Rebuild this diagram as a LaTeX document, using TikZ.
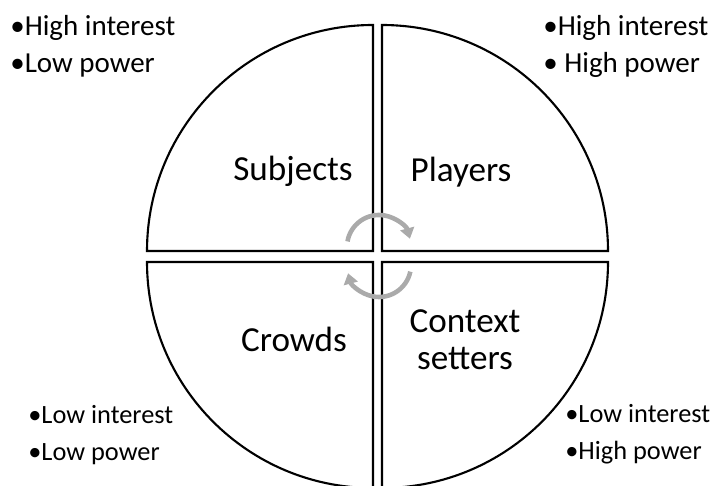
\documentclass[tikz,border=0pt]{standalone}
\usepackage{fontspec}
\setmainfont{Carlito}
\usepackage{xcolor}
\usepackage{tikz}
\definecolor{cyclegray}{RGB}{170,170,170}
\usetikzlibrary{arrows.meta}

\begin{document}
\begin{tikzpicture}[x=0.02cm, y=0.02cm,
    sector/.style={line width=1.2pt, line join=miter},
    quad/.style={font=\fontsize{20}{21.5}\selectfont, align=center, anchor=base, inner sep=0pt},
    corner/.style={font=\fontsize{15}{21.5}\selectfont, align=left, anchor=base west, inner sep=0pt},
    corner top/.style={corner, font=\fontsize{16.5}{21.5}\selectfont},
    cycle arrow/.style={cyclegray, line width=2.6pt, -{Triangle[length=6pt,width=8pt]}}]
    \useasboundingbox (0,0) rectangle (713,486);

    % Quadrant 1 (top left)
    \draw[sector] (373,235) -- ++(-226,0) arc[start angle=180, end angle=90, radius=226] -- cycle;
    \node[quad] (subj) at (293,305) {Subjects};

    % Quadrant 2 (top right)
    \draw[sector] (382,235) -- ++(226,0) arc[start angle=0, end angle=90, radius=226] -- cycle;
    \node[quad] (play) at (461,304) {Players};

    % Quadrant 3 (bottom left)
    \draw[sector] (373,224) -- ++(-226,0) arc[start angle=180, end angle=270, radius=226] -- cycle;
    \node[quad] (crowd) at (294,134) {Crowds};

    % Quadrant 4 (bottom right)
    \draw[sector] (382,224) -- ++(226,0) arc[start angle=0, end angle=-90, radius=226] -- cycle;
    \node[quad] (ctx) at (465,116) {Context\\setters};

    % Cycle arrows in the middle
    \coordinate (hub) at (379,230);
    \draw[cycle arrow] ([shift={(170:32)}]379,239) arc[start angle=170, end angle=15, radius=32];
    \draw[cycle arrow] ([shift={(-12:32)}]379,221) arc[start angle=-12, end angle=-165, radius=32];

    % Interest / power notes (base = last line)
    \node[corner top] (tl) at (10,413) {•High interest\\•Low power};
    \node[corner top] (tr) at (543,413) {•High interest\\• High power};
    \node[corner] (bl) at (28,25) {•Low interest\\•Low power};
    \node[corner] (br) at (565,26) {•Low interest\\•High power};
\end{tikzpicture}
\end{document}
